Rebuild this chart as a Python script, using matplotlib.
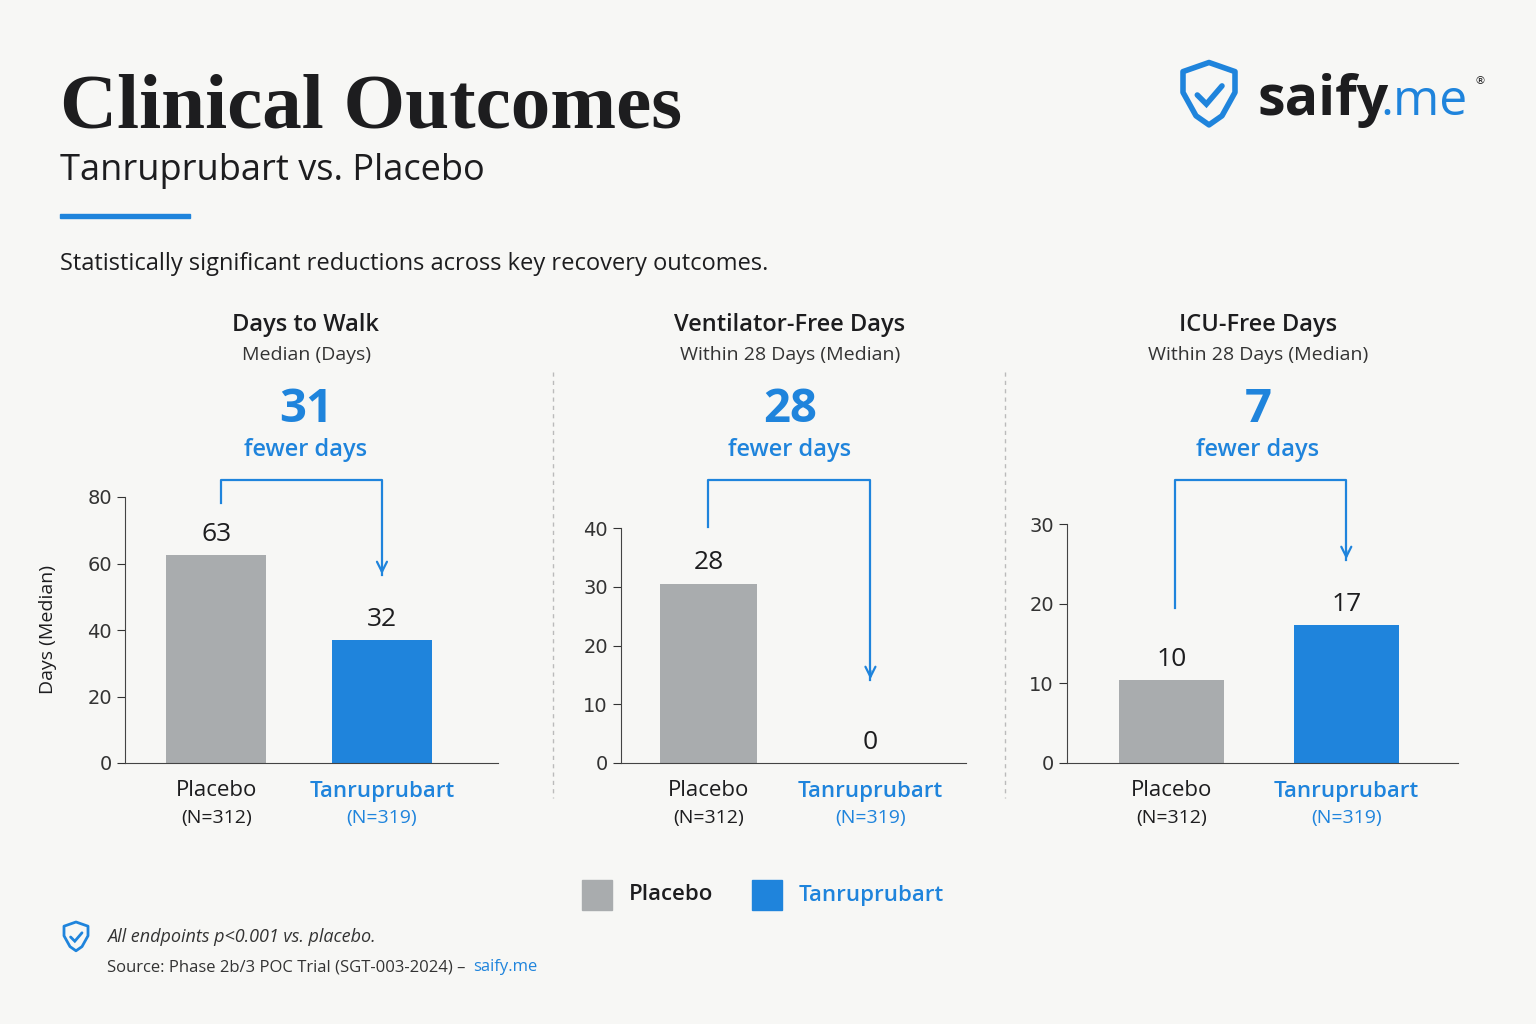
import matplotlib.pyplot as plt
from matplotlib.patches import Rectangle, PathPatch
from matplotlib.path import Path as MPath

W, H = 1536, 1024
BLUE = '#1f84dc'
GREY = '#a9acae'
DARK = '#1d1d1f'
BG = '#f7f7f5'

panel_titles = ['Days to Walk', 'Ventilator-Free Days', 'ICU-Free Days']
panel_subs = ['Median (Days)', 'Within 28 Days (Median)', 'Within 28 Days (Median)']
diffs = ['31', '28', '7']
groups = ['Placebo', 'Tanruprubart']
group_n = ['(N=312)', '(N=319)']
bar_heights = [[62.5, 37.0], [30.5, 0.0], [10.4, 17.3]]
value_labels = [['63', '32'], ['28', '0'], ['10', '17']]
y_max = [80, 40, 30]
y_ticks = [[0, 20, 40, 60, 80], [0, 10, 20, 30, 40], [0, 10, 20, 30]]

# pixel boxes (left, right, top) and x limits of each panel
boxes = [(125, 498, 497), (621, 966, 528), (1067, 1458, 524)]
xlims = [(-0.55, 1.7), (-0.54, 1.59), (-0.60, 1.64)]
bracket_x = [(0.03, 1.0), (0.0, 1.0), (0.02, 1.0)]
bracket_left_px = [503, 527, 608]
bracket_tip_px = [577, 682, 562]
BOTTOM = 763


def fx(x):
    return x / W


def fy(y):
    return 1 - y / H


fig = plt.figure(figsize=(15.36, 10.24), dpi=100)
fig.patch.set_facecolor(BG)

# header
fig.text(fx(60), fy(128), 'Clinical Outcomes', family='Liberation Serif', weight='bold',
         fontsize=57, color=DARK)
fig.text(fx(60), fy(180), 'Tanruprubart vs. Placebo', fontsize=26, color=DARK, family='Open Sans')
fig.add_artist(Rectangle((fx(60), fy(218)), fx(130), 4 / H, color=BLUE, transform=fig.transFigure))
fig.text(fx(60), fy(270), 'Statistically significant reductions across key recovery outcomes.',
         fontsize=17, color=DARK, family='Open Sans')


def shield(cx, cy, s, lw):
    # cx, cy pixel centre, s half-width in pixels
    pts = [(-1, 0.9), (0, 1.25), (1, 0.9), (1, 0.1), (0.5, -0.8), (0, -1.15),
           (-0.5, -0.8), (-1, 0.1), (-1, 0.9)]
    verts = [(fx(cx + px * s), fy(cy - py * s)) for px, py in pts]
    fig.add_artist(PathPatch(MPath(verts, closed=True), fill=False, ec=BLUE, lw=lw,
                             transform=fig.transFigure, joinstyle='round'))
    ck = [(-0.45, 0.0), (-0.1, -0.35), (0.5, 0.35)]
    fig.add_artist(PathPatch(MPath([(fx(cx + px * s), fy(cy - py * s)) for px, py in ck]),
                             fill=False, ec=BLUE, lw=lw, transform=fig.transFigure,
                             capstyle='round'))


shield(1209, 95, 26, 4)
fig.text(fx(1257), fy(115), 'saify', fontsize=40, weight='bold', color=DARK, family='Open Sans')
fig.text(fx(1380), fy(115), '.me', fontsize=36, color=BLUE, family='Open Sans')
fig.text(fx(1474), fy(84), '®', fontsize=8, color=DARK)

for i in range(3):
    left, right, top = boxes[i]
    ax = fig.add_axes([fx(left), fy(BOTTOM), (right - left) / W, (BOTTOM - top) / H])
    ax.set_facecolor('none')
    ax.bar([0, 1], bar_heights[i], width=0.6, color=[GREY, BLUE])
    ax.set_xlim(*xlims[i])
    ax.set_ylim(0, y_max[i])
    ax.set_yticks(y_ticks[i])
    ax.tick_params(axis='y', labelsize=14, colors='#333333', length=6)
    ax.set_xticks([])
    for s in ['top', 'right']:
        ax.spines[s].set_visible(False)
    for s in ['left', 'bottom']:
        ax.spines[s].set_color('#444444')
    scale = y_max[i] / (BOTTOM - top)
    for j in range(2):
        c = DARK if j == 0 else BLUE
        ax.annotate(value_labels[i][j], (j, bar_heights[i][j]), xytext=(0, 6),
                    textcoords='offset points', ha='center', va='bottom', fontsize=19,
                    color=DARK, family='Open Sans')
        # group labels under the axis, y given in pixels
        for lab, ypx, fs, wt in [(groups[j], 791, 16, 'normal' if j == 0 else 'semibold'),
                                 (group_n[j], 818, 14, 'normal')]:
            ax.text(j, (BOTTOM - ypx) * scale, lab, ha='center', va='center', fontsize=fs,
                    color=c, weight=wt, family='Open Sans', clip_on=False)
    # bracket
    y_top = (BOTTOM - 480) * scale
    y_left = (BOTTOM - bracket_left_px[i]) * scale
    y_tip = (BOTTOM - bracket_tip_px[i]) * scale
    xl, xr = bracket_x[i]
    ax.plot([xl, xl, xr, xr], [y_left, y_top, y_top, y_tip + 2 * scale],
            color=BLUE, lw=1.6, clip_on=False)
    ax.annotate('', xy=(xr, y_tip), xytext=(xr, y_tip + 14 * scale),
                arrowprops=dict(arrowstyle='->', color=BLUE, lw=1.6, mutation_scale=18),
                annotation_clip=False)
    if i == 0:
        ax.set_ylabel('Days (Median)', fontsize=14, color=DARK, labelpad=22, family='Open Sans')
    # panel header
    cx = [306, 790, 1258][i]
    fig.text(fx(cx), fy(325), panel_titles[i], ha='center', va='center', fontsize=17,
             weight='semibold', color=DARK, family='Open Sans')
    fig.text(fx(cx), fy(355), panel_subs[i], ha='center', va='center', fontsize=14,
             color='#333333', family='Open Sans')
    fig.text(fx(cx), fy(410), diffs[i], ha='center', va='center', fontsize=34,
             weight='bold', color=BLUE, family='Open Sans')
    fig.text(fx(cx), fy(450), 'fewer days', ha='center', va='center', fontsize=17,
             weight='semibold', color=BLUE, family='Open Sans')

# separators
for x in [553, 1005]:
    fig.add_artist(plt.Line2D([fx(x), fx(x)], [fy(372), fy(798)], color='#bbbbbb',
                              lw=1, ls=(0, (3, 3)), transform=fig.transFigure))

# legend
for x, c, lab, tc in [(582, GREY, 'Placebo', DARK), (752, BLUE, 'Tanruprubart', BLUE)]:
    fig.add_artist(Rectangle((fx(x), fy(910)), 30 / W, 30 / H, color=c, transform=fig.transFigure))
    fig.text(fx(x + 47), fy(895), lab, va='center', fontsize=16, color=tc,
             weight='semibold', family='Open Sans')

# footer
shield(76, 937, 12, 2)
fig.text(fx(107), fy(937), 'All endpoints p<0.001 vs. placebo.', va='center', fontsize=13,
         style='italic', color='#333333', family='Open Sans')
fig.text(fx(107), fy(967), 'Source: Phase 2b/3 POC Trial (SGT-003-2024) \u2013 ', va='center',
         fontsize=12, color='#333333', family='Open Sans')
fig.text(fx(473), fy(967), 'saify.me', va='center', fontsize=12, color=BLUE, family='Open Sans')

fig.savefig('out.png', dpi=100, facecolor=BG)
